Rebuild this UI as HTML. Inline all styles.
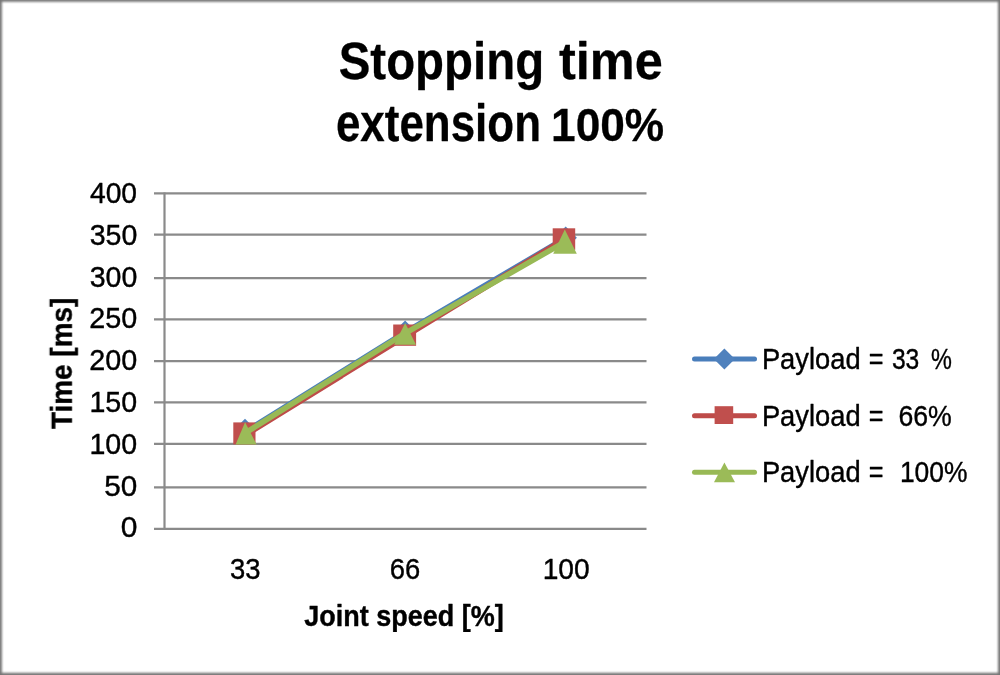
<!DOCTYPE html>
<html lang="en">
<head>
<meta charset="utf-8">
<title>Stopping time extension 100%</title>
<style>
html,body{margin:0;padding:0;background:#fff;}
body{width:1000px;height:675px;overflow:hidden;position:relative;}
svg{position:absolute;left:0;top:0;display:block;}
text{font-family:"Liberation Sans",sans-serif;fill:#000;white-space:pre;stroke:#000;stroke-width:0.4px;stroke-linejoin:round;}
.h{stroke-width:0.3px;}
.b{font-weight:bold;}
.t{font-size:30px;}
.h{font-size:51px;font-weight:bold;}
.g{stroke:#8a8a8a;stroke-width:2.2;fill:none;}
</style>
</head>
<body>
<svg width="1000" height="675" viewBox="0 0 1000 675">
<defs><filter id="soft" x="-12" y="-12" width="1024" height="699" filterUnits="userSpaceOnUse"><feGaussianBlur stdDeviation="0.55"/></filter><filter id="soft2" x="-12" y="-12" width="1024" height="699" filterUnits="userSpaceOnUse"><feGaussianBlur stdDeviation="0.9"/></filter></defs>
<rect x="0" y="0" width="1000" height="675" fill="#fff"/>
<!-- outer border -->
<rect x="-3.1" y="-3.2" width="1006.1" height="681" fill="none" stroke="#747474" stroke-width="10" filter="url(#soft2)"/>
<g filter="url(#soft)">

<!-- title -->
<text class="h"><tspan id="t1a" x="338.72" y="78.6" textLength="205.41" lengthAdjust="spacingAndGlyphs">Stopping</tspan> <tspan id="t1b" x="559.00" y="78.6" textLength="103.74" lengthAdjust="spacingAndGlyphs">time</tspan> <tspan id="t2a" x="335.95" y="141" textLength="205.03" lengthAdjust="spacingAndGlyphs">extension</tspan> <tspan id="t2b" x="551.06" y="141" textLength="113.13" lengthAdjust="spacingAndGlyphs" style="font-size:47px">100%</tspan></text>

<!-- gridlines -->
<g class="g">
<path d="M154 193.3H646.5M154 234.6H646.5M154 278.1H646.5M154 319.4H646.5M154 361.1H646.5M154 402.4H646.5M154 443.9H646.5M154 487.3H646.5M154 528.8H646.5"/>
<path d="M164.5 192.6V529.9"/>
</g>

<!-- y tick labels -->
<text id="y400" class="t" x="89.94" y="203.2" textLength="47.11" lengthAdjust="spacingAndGlyphs">400</text>
<text id="y350" class="t" x="89.72" y="245.0" textLength="47.55" lengthAdjust="spacingAndGlyphs">350</text>
<text id="y300" class="t" x="89.72" y="286.6" textLength="47.55" lengthAdjust="spacingAndGlyphs">300</text>
<text id="y250" class="t" x="89.28" y="328.0" textLength="48.01" lengthAdjust="spacingAndGlyphs">250</text>
<text id="y200" class="t" x="89.28" y="369.6" textLength="48.01" lengthAdjust="spacingAndGlyphs">200</text>
<text id="y150" class="t" x="89.41" y="412.4" textLength="47.74" lengthAdjust="spacingAndGlyphs">150</text>
<text id="y100" class="t" x="89.41" y="454.4" textLength="47.74" lengthAdjust="spacingAndGlyphs">100</text>
<text id="y50" class="t" x="104.29" y="496.1" textLength="33.02" lengthAdjust="spacingAndGlyphs">50</text>
<text id="y0" class="t" x="120.67" y="537.3" textLength="16.65" lengthAdjust="spacingAndGlyphs">0</text>

<!-- x tick labels -->
<text id="x33" class="t" x="230.06" y="578.6" textLength="30.55" lengthAdjust="spacingAndGlyphs">33</text>
<text id="x66" class="t" x="389.68" y="578.6" textLength="30.49" lengthAdjust="spacingAndGlyphs">66</text>
<text id="x100" class="t" x="542.70" y="578.6" textLength="47.06" lengthAdjust="spacingAndGlyphs">100</text>

<!-- axis titles -->
<text id="xt" class="t b" x="304.34" y="625.6" textLength="199.40" lengthAdjust="spacingAndGlyphs" style="font-size:29.4px">Joint speed [%]</text>
<text id="yt" class="t b" style="font-size:29.4px" transform="translate(71.8 429) rotate(-90)" x="0" y="0" textLength="131.3" lengthAdjust="spacingAndGlyphs">Time [ms]</text>

<!-- series -->
<g id="series">
<g fill="none" stroke-width="5.5" stroke-linecap="round" stroke-linejoin="round">
<polyline stroke="#4a7ebb" points="245,431.8 405,332.4 565,238.4"/>
</g>
<path fill="#4f81bd" d="M245 418.7 L256.2 429.9 L245 441.09999999999997 L233.8 429.9Z"/>
<path fill="#4f81bd" d="M405.1 320.5 L416.3 331.7 L405.1 342.9 L393.90000000000003 331.7Z"/>
<path fill="#4f81bd" d="M565.7 226.60000000000002 L576.9000000000001 237.8 L565.7 249.0 L554.5 237.8Z"/>
<g fill="none" stroke-width="5.5" stroke-linecap="round" stroke-linejoin="round">
<polyline stroke="#be4b48" points="244.8,435.4 404.8,336.6 564.5,239"/>
</g>
<rect fill="#c0504d" x="233.3" y="422.4" width="22.2" height="22"/>
<rect fill="#c0504d" x="393.2" y="324.5" width="22.9" height="21.3"/>
<rect fill="#c0504d" x="552.7" y="228.3" width="22.5" height="21.6"/>
<g fill="none" stroke-width="5.5" stroke-linecap="round" stroke-linejoin="round">
<polyline stroke="#98b954" points="245,433.2 405,333.4 565,241.8"/>
</g>
<path fill="#9bbb59" d="M245.1 422.2 L256.6 444.6 L235.6 444.6Z"/>
<path fill="#9bbb59" d="M405.2 323 L416 344.8 L394.2 344.8Z"/>
<path fill="#9bbb59" d="M564.8 229.6 L576.8 253.8 L553.2 253.8Z"/>
</g>

<!-- legend -->
<g id="legend">
<g fill="none" stroke-width="5" stroke-linecap="round">
<path stroke="#4a7ebb" d="M694.5 359H754.5"/>
<path stroke="#be4b48" d="M694.5 415.7H754.5"/>
<path stroke="#98b954" d="M694.5 472.2H754.5"/>
</g>
<path fill="#4f81bd" d="M724.4 348.6 L734.9 359.1 L724.4 369.6 L713.9 359.1Z"/>
<rect fill="#c0504d" x="714.6" y="406.2" width="18.6" height="17.8"/>
<path fill="#9bbb59" d="M724.4 462.5 L735 482.2 L714 482.2Z"/>
</g>
<text class="t"><tspan id="l1a" x="761.91" y="368.6" textLength="98.69" lengthAdjust="spacingAndGlyphs" style="font-size:28.6px">Payload</tspan> <tspan id="l1b" x="868.79" y="368.6" textLength="14.74" lengthAdjust="spacingAndGlyphs">=</tspan> <tspan id="l1c" x="891.93" y="368.6" textLength="27.40" lengthAdjust="spacingAndGlyphs">33</tspan> <tspan id="l1d" x="930.93" y="368.6" textLength="20.87" lengthAdjust="spacingAndGlyphs">%</tspan></text>
<text class="t"><tspan id="l2a" x="761.91" y="425.7" textLength="98.69" lengthAdjust="spacingAndGlyphs" style="font-size:28.6px">Payload</tspan> <tspan id="l2b" x="868.79" y="425.7" textLength="14.74" lengthAdjust="spacingAndGlyphs">=</tspan>  <tspan id="l2c" x="898.47" y="425.7" textLength="53.35" lengthAdjust="spacingAndGlyphs">66%</tspan></text>
<text class="t"><tspan id="l3a" x="761.91" y="482.0" textLength="98.69" lengthAdjust="spacingAndGlyphs" style="font-size:28.6px">Payload</tspan> <tspan id="l3b" x="868.79" y="482.0" textLength="14.74" lengthAdjust="spacingAndGlyphs">=</tspan>  <tspan id="l3c" x="899.91" y="482.0" textLength="67.61" lengthAdjust="spacingAndGlyphs">100%</tspan></text>
</g>
</svg>
</body>
</html>
